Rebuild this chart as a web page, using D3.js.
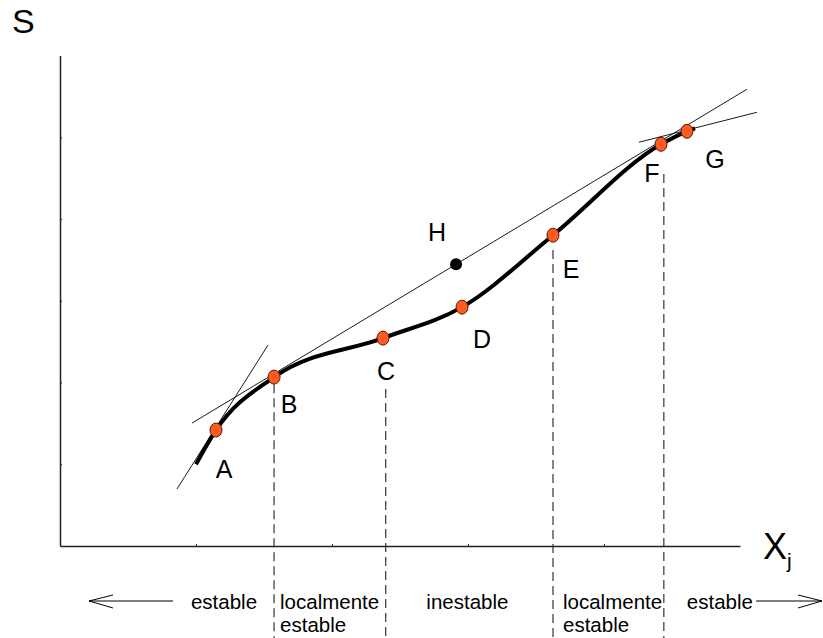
<!DOCTYPE html>
<head>
    <meta charset="utf-8">
    <script src="https://d3js.org/d3.v7.min.js"></script>
    <style>
        body {
            margin: 0;
            background-color: #fff;
        }

        svg text {
            font-family: "Liberation Sans", Arial, Helvetica, sans-serif;
            fill: #000;
        }

        .axis path {
            stroke: #222;
            stroke-width: 1.5px;
        }

        .axis .tick line {
            stroke: #222;
        }

        .axis text {
            display: none;
        }

        .curve {
            fill: none;
            stroke: #000;
            stroke-width: 4px;
            stroke-linecap: butt;
        }

        .tangent {
            stroke: #000;
            stroke-width: 0.9px;
        }

        .divider {
            stroke: #333;
            stroke-width: 1.2px;
            stroke-dasharray: 9, 5;
        }

        .marker {
            fill: #ff5a1f;
            stroke: #5a1a00;
            stroke-width: 1px;
        }

        .point-label {
            font-size: 25px;
            text-anchor: middle;
        }

        .regime {
            font-size: 20.5px;
        }

        .arrow {
            fill: none;
            stroke: #000;
            stroke-width: 1px;
        }
    </style>
</head>

<body>
    <script>
        var width = 823,
            height = 638;

        // S(Xj) curve, data units
        var curveX = [1.00, 1.147, 1.574, 2.375, 2.956, 3.625, 4.419, 4.610, 4.669];
        var curveY = [1.00, 1.418, 2.066, 2.543, 2.922, 3.802, 4.914, 5.073, 5.110];

        // labelled points
        var pointNames = ["A", "B", "C", "D", "E", "F", "G"];
        var pointX = [1.147, 1.574, 2.375, 2.956, 3.625, 4.419, 4.610];
        var pointY = [1.418, 2.066, 2.543, 2.922, 3.802, 4.914, 5.073];

        var hPoint = {name: "H", x: 2.912, y: 3.447};

        // tangent segments [x1, y1, x2, y2]
        var tangents = [
            [0.860, 0.697, 1.529, 2.457],
            [0.971, 1.504, 5.051, 5.587],
            [4.257, 4.939, 5.125, 5.306]
        ];

        // regime boundaries (x) and where each dashed line starts (y)
        var boundaryX = [1.574, 2.395, 3.625, 4.44];
        var boundaryTop = [1.98, 1.92, 3.62, 4.55];

        var regimes = ["estable", "localmente|estable", "inestable", "localmente|estable", "estable"];

        var xTicks = [1, 2, 3, 4];
        var yTicks = [1, 2, 3, 4, 5];

        var x = d3.scaleLinear().domain([0, 5]).range([60, 740]);
        var y = d3.scaleLinear().domain([0, 6]).range([546, 55.5]);

        var svg = d3.select("body").append("svg")
            .attr("width", width)
            .attr("height", height);

        // dashed regime boundaries (run past the axis to the bottom)
        svg.selectAll(".divider")
            .data(boundaryX)
            .enter().append("line")
            .attr("class", "divider")
            .attr("x1", function(d) { return x(d); })
            .attr("x2", function(d) { return x(d); })
            .attr("y1", function(d, i) { return y(boundaryTop[i]); })
            .attr("y2", y(-1.2));

        // axes
        svg.append("g")
            .attr("class", "axis")
            .attr("transform", "translate(" + x(0) + ",0)")
            .call(d3.axisLeft(y).tickValues(yTicks).tickSizeInner(-2).tickSizeOuter(0));

        svg.append("g")
            .attr("class", "axis")
            .attr("transform", "translate(0," + y(0) + ")")
            .call(d3.axisBottom(x).tickValues(xTicks).tickSizeInner(-2).tickSizeOuter(0));

        // tangents
        svg.selectAll(".tangent")
            .data(tangents)
            .enter().append("line")
            .attr("class", "tangent")
            .attr("x1", function(d) { return x(d[0]); })
            .attr("y1", function(d) { return y(d[1]); })
            .attr("x2", function(d) { return x(d[2]); })
            .attr("y2", function(d) { return y(d[3]); });

        // main curve
        var line = d3.line()
            .x(function(d) { return x(d[0]); })
            .y(function(d) { return y(d[1]); })
            .curve(d3.curveMonotoneX);

        svg.append("path")
            .datum(d3.zip(curveX, curveY))
            .attr("class", "curve")
            .attr("d", line);

        // markers
        svg.selectAll(".marker")
            .data(pointNames)
            .enter().append("ellipse")
            .attr("class", "marker")
            .attr("cx", function(d, i) { return x(pointX[i]); })
            .attr("cy", function(d, i) { return y(pointY[i]); })
            .attr("rx", 6)
            .attr("ry", 7);

        svg.append("circle")
            .attr("cx", x(hPoint.x))
            .attr("cy", y(hPoint.y))
            .attr("r", 6)
            .attr("fill", "#000");

        // point labels
        var labelOffset = {
            A: [8, 48], B: [15, 36], C: [3, 42], D: [20, 41],
            E: [18, 43], F: [-9, 38], G: [28, 37], H: [-19, -23]
        };

        svg.selectAll(".point-label")
            .data(pointNames.map(function(n, i) { return {name: n, x: pointX[i], y: pointY[i]}; }).concat([hPoint]))
            .enter().append("text")
            .attr("class", "point-label")
            .attr("x", function(d) { return x(d.x) + labelOffset[d.name][0]; })
            .attr("y", function(d) { return y(d.y) + labelOffset[d.name][1]; })
            .text(function(d) { return d.name; });

        // axis titles
        svg.append("text")
            .attr("x", 12)
            .attr("y", 33)
            .style("font-size", "34px")
            .text("S");

        var xt = svg.append("text")
            .attr("x", 763)
            .attr("y", 559)
            .style("font-size", "36px")
            .text("X");
        xt.append("tspan")
            .attr("dy", 9)
            .style("font-size", "21px")
            .text("j");

        // regime labels under the axis
        var bx = boundaryX.map(x);
        var regimePos = [
            [bx[0] - 17, "end"],
            [bx[0] + 6, "start"],
            [(bx[1] + bx[2]) / 2 - 2, "middle"],
            [bx[2] + 10, "start"],
            [bx[3] + 23, "start"]
        ];

        regimes.forEach(function(r, i) {
            var t = svg.append("text")
                .attr("class", "regime")
                .attr("text-anchor", regimePos[i][1])
                .attr("y", 609);
            r.split("|").forEach(function(part, j) {
                t.append("tspan")
                    .attr("x", regimePos[i][0])
                    .attr("dy", j === 0 ? 0 : 23)
                    .text(part);
            });
        });

        // arrows
        var arrowY = 601;
        svg.append("path")
            .attr("class", "arrow")
            .attr("d", "M173," + arrowY + "H89M113," + (arrowY - 6) + "L89," + arrowY + "L113," + (arrowY + 7));

        svg.append("path")
            .attr("class", "arrow")
            .attr("d", "M756," + arrowY + "H822M798," + (arrowY - 6) + "L822," + arrowY + "L798," + (arrowY + 7));
    </script>
</body>
